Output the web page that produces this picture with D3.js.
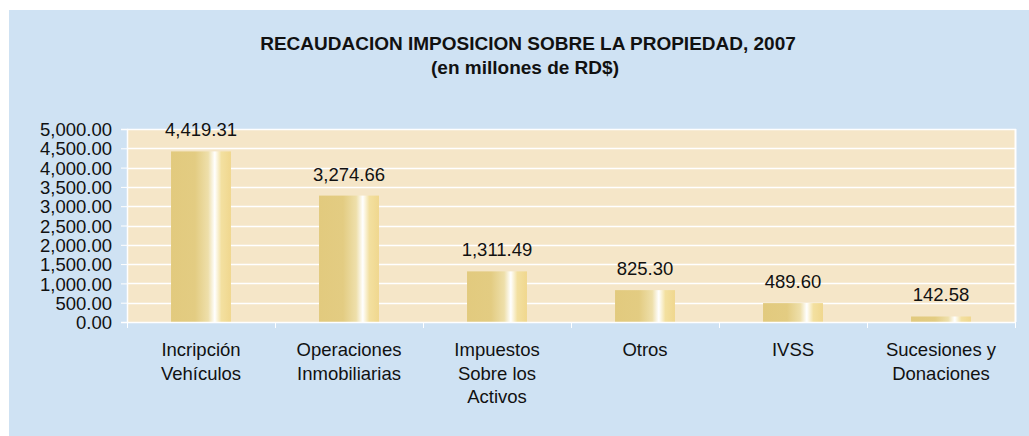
<!DOCTYPE html>
<html>
<head>
<meta charset="utf-8">
<script src="https://cdn.jsdelivr.net/npm/d3@7"></script>
<style>
  body { margin: 0; background: #fff; }
  text { font-family: Arial, "Liberation Sans", sans-serif; fill: #111; }
</style>
</head>
<body>
<svg id="chart" width="1029" height="436"></svg>
<script>
// categories and values (millones de RD$)
var categories = ["Incripción\nVehículos", "Operaciones\nInmobiliarias", "Impuestos\nSobre los\nActivos",
                  "Otros", "IVSS", "Sucesiones y\nDonaciones"];
var values = [4419.31, 3274.66, 1311.49, 825.30, 489.60, 142.58];
var yTicks = [0, 500, 1000, 1500, 2000, 2500, 3000, 3500, 4000, 4500, 5000];
var title = "RECAUDACION IMPOSICION SOBRE LA PROPIEDAD, 2007";
var subtitle = "(en millones de RD$)";

var svg = d3.select("#chart");
var fmt = d3.format(",.2f");

var plotLeft = 127, plotRight = 1015, plotTop = 129, plotBottom = 322;

svg.append("rect")
    .attr("x", 9).attr("y", 10)
    .attr("width", 1020).attr("height", 426)
    .attr("fill", "#cfe2f3");

// gradient for bars
var grad = svg.append("defs").append("linearGradient")
    .attr("id", "gold").attr("x1", "0%").attr("x2", "100%");
[["0%", "#e2ca7e"], ["40%", "#e3cc82"], ["62%", "#eedfaa"], ["73%", "#ffffff"],
 ["84%", "#f3e0a0"], ["100%", "#f0d78e"]].forEach(function(s) {
  grad.append("stop").attr("offset", s[0]).attr("stop-color", s[1]);
});

var x = d3.scaleBand().domain(categories).range([plotLeft, plotRight]).paddingInner(0).paddingOuter(0);
var y = d3.scaleLinear().domain([0, 5000]).range([plotBottom, plotTop]);

svg.append("rect")
    .attr("x", plotLeft).attr("y", plotTop)
    .attr("width", plotRight - plotLeft).attr("height", plotBottom - plotTop)
    .attr("fill", "#f5e6c8");

// gridlines
svg.append("g").selectAll("line").data(yTicks.slice(1)).join("line")
    .attr("x1", plotLeft).attr("x2", plotRight + 1)
    .attr("y1", function(d) { return Math.round(y(d)) + 0.5; })
    .attr("y2", function(d) { return Math.round(y(d)) + 0.5; })
    .attr("stroke", "#fff").attr("stroke-width", 1.5);

svg.append("line")
    .attr("x1", plotRight + 0.5).attr("x2", plotRight + 0.5)
    .attr("y1", plotTop).attr("y2", plotBottom)
    .attr("stroke", "#fff").attr("stroke-width", 2);

// bars
var bw = x.bandwidth() * 0.405;
svg.append("g").selectAll("rect").data(values).join("rect")
    .attr("x", function(d, i) { return x(categories[i]) + (x.bandwidth() - bw) / 2; })
    .attr("y", function(d) { return y(d); })
    .attr("width", bw)
    .attr("height", function(d) { return y(0) - y(d); })
    .attr("fill", "url(#gold)");

svg.append("g").selectAll("text").data(values).join("text")
    .attr("x", function(d, i) { return x(categories[i]) + x.bandwidth() / 2; })
    .attr("y", function(d) { return y(d) - 15; })
    .attr("text-anchor", "middle")
    .style("font-size", "18.5px")
    .text(function(d) { return fmt(d); });

// y axis
var yAxis = svg.append("g")
    .attr("transform", "translate(" + plotLeft + ",0)")
    .call(d3.axisLeft(y).tickValues(yTicks).tickFormat(fmt).tickSize(6).tickPadding(9));
yAxis.select(".domain").attr("stroke", "#fff").attr("stroke-width", 1.5);
yAxis.selectAll(".tick line").attr("stroke", "#fff");
yAxis.selectAll(".tick text").style("font-size", "18.5px").attr("fill", "#111")
    .attr("dy", "0.36em");

// x axis
var xAxis = svg.append("g")
    .attr("transform", "translate(0," + plotBottom + ")")
    .call(d3.axisBottom(x).tickSize(0).tickFormat(""));
xAxis.select(".domain").attr("stroke", "#fff").attr("stroke-width", 1.5);
xAxis.selectAll(".tick").remove();

svg.append("g").selectAll("line").data(categories.concat([null])).join("line")
    .attr("x1", function(d, i) { return plotLeft + i * x.bandwidth() + 0.5; })
    .attr("x2", function(d, i) { return plotLeft + i * x.bandwidth() + 0.5; })
    .attr("y1", plotBottom).attr("y2", plotBottom + 6)
    .attr("stroke", "#fff");

var labels = svg.append("g").selectAll("text").data(categories).join("text")
    .attr("text-anchor", "middle")
    .style("font-size", "18.5px")
    .attr("transform", function(d) {
      return "translate(" + (x(d) + x.bandwidth() / 2) + ",356)";
    });
labels.selectAll("tspan").data(function(d) { return d.split("\n"); }).join("tspan")
    .attr("x", 0)
    .attr("y", function(d, i) { return i * 23.5; })
    .text(function(d) { return d; });

// titles
svg.append("text")
    .attr("x", 528).attr("y", 50)
    .attr("text-anchor", "middle")
    .style("font-size", "19px").style("font-weight", "bold")
    .text(title);
svg.append("text")
    .attr("x", 525).attr("y", 74)
    .attr("text-anchor", "middle")
    .style("font-size", "19px").style("font-weight", "bold")
    .text(subtitle);
</script>
</body>
</html>
